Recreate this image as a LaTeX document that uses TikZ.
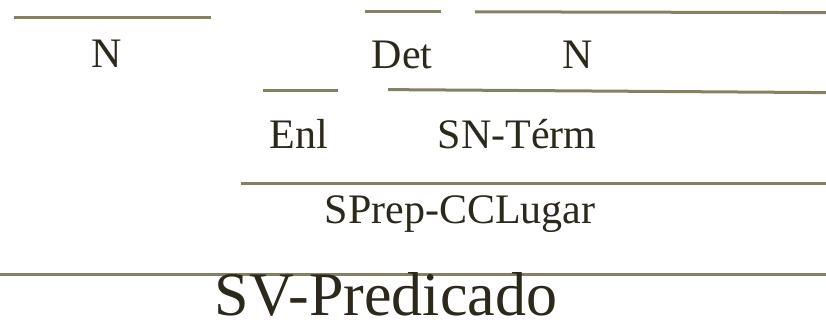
\documentclass[tikz,border=0pt]{standalone}
\usepackage{fontspec}
\setmainfont{Liberation Serif}
\definecolor{barra}{RGB}{132,128,98}
\definecolor{letra}{RGB}{44,40,28}

\begin{document}
\begin{tikzpicture}[x=1pt, y=-1pt,
    raya/.style={draw=barra, line width=3pt},
    etiq/.style={text=letra, anchor=base, inner sep=0pt,
        font=\fontsize{42}{50}\selectfont},
    grande/.style={etiq, font=\fontsize{62}{70}\selectfont}
    ]
    \useasboundingbox (0,0) rectangle (826,322);
    \draw[raya] (14,17) -- (211,17);
    \draw[raya] (365,11.7) -- (441,11.7);
    \draw[raya] (475,11.8) -- (826,12.6);
    \draw[raya] (263,90) -- (338,90);
    \draw[raya] (388,89.6) -- (826,92.6);
    \draw[raya] (241,183.5) -- (826,183.5);
    \draw[raya] (0,274) -- (826,274);
    \node[etiq] (nucleo) at (107,67) {N};
    \node[etiq] (det) at (402,68) {Det};
    \node[etiq] (nucleoT) at (578,68) {N};
    \node[etiq] (enl) at (299,148) {Enl};
    \node[etiq] (term) at (517,148) {SN-Térm};
    \node[etiq] (sprep) at (460,223) {SPrep-CCLugar};
    \node[grande] (pred) at (386,315) {SV-Predicado};
\end{tikzpicture}
\end{document}
